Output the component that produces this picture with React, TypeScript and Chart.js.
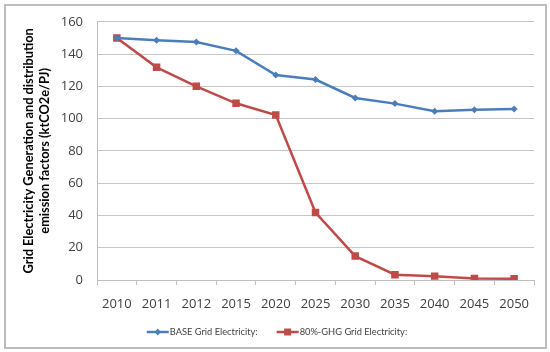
import React, { useEffect, useRef } from "react";
import { Chart, registerables } from "chart.js";

Chart.register(...registerables);

const years = ["2010", "2011", "2012", "2015", "2020", "2025", "2030", "2035", "2040", "2045", "2050"];
const baseValues = [150, 148.5, 147.5, 142, 127, 124.2, 112.8, 109.3, 104.6, 105.5, 106];
const ghgValues = [150, 131.8, 120, 109.5, 102.2, 41.8, 14.8, 3.3, 2.4, 1.0, 0.8];
const seriesNames = ["BASE Grid Electricity:", "80%-GHG Grid Electricity:"];
const yTitle = ["Grid Electricity Generation and distribution", "emission factors (ktCO2e/PJ)"];

const BLUE = "#4a7ebb";
const RED = "#be4b48";
const TEXT = "#404040";
const GRID = "#c6c6c6";

function drawMarker(ctx: CanvasRenderingContext2D, style: string, x: number, y: number, color: string) {
  ctx.save();
  ctx.fillStyle = color;
  ctx.beginPath();
  if (style === "rect") {
    ctx.rect(x - 3.5, y - 3.5, 7, 7);
  } else {
    ctx.moveTo(x, y - 3.5);
    ctx.lineTo(x + 3, y);
    ctx.lineTo(x, y + 3.5);
    ctx.lineTo(x - 3, y);
    ctx.closePath();
  }
  ctx.fill();
  ctx.restore();
}

const legendPlugin = {
  id: "customLegend",
  afterDraw(chart: any) {
    const ctx: CanvasRenderingContext2D = chart.ctx;
    const items = [
      { name: seriesNames[0], color: BLUE, style: "rectRot" },
      { name: seriesNames[1], color: RED, style: "rect" },
    ];
    ctx.save();
    ctx.font = "9.3px Lato";
    const lineLen = 22;
    const gapText = 1;
    const gapItems = 19;
    const widths = items.map((it) => lineLen + gapText + ctx.measureText(it.name).width);
    const total = widths.reduce((a, b) => a + b, 0) + gapItems;
    let x = chart.width / 2 + 2 - total / 2;
    const y = chart.chartArea.bottom + 52;
    items.forEach((it, i) => {
      ctx.strokeStyle = it.color;
      ctx.lineWidth = 2.5;
      ctx.beginPath();
      ctx.moveTo(x, y);
      ctx.lineTo(x + lineLen, y);
      ctx.stroke();
      drawMarker(ctx, it.style, x + lineLen / 2, y, it.color);
      ctx.fillStyle = TEXT;
      ctx.textBaseline = "middle";
      ctx.textAlign = "left";
      ctx.fillText(it.name, x + lineLen + gapText, y);
      x += widths[i] + gapItems;
    });
    ctx.restore();
  },
};

export default function App() {
  const canvasRef = useRef<HTMLCanvasElement | null>(null);

  useEffect(() => {
    if (!canvasRef.current) return;
    const chart = new Chart(canvasRef.current, {
      type: "line",
      data: {
        labels: years,
        datasets: [
          {
            label: seriesNames[0],
            data: baseValues,
            borderColor: BLUE,
            backgroundColor: BLUE,
            borderWidth: 2.5,
            pointStyle: "rectRot",
            pointRadius: 3.5,
            pointBorderWidth: 0,
            tension: 0,
          },
          {
            label: seriesNames[1],
            data: ghgValues,
            borderColor: RED,
            backgroundColor: RED,
            borderWidth: 2.5,
            pointStyle: "rect",
            pointRadius: 5.3,
            pointBorderWidth: 0,
            tension: 0,
          },
        ],
      },
      options: {
        animation: false,
        responsive: false,
        devicePixelRatio: 1,
        layout: { padding: { left: 0, top: 19, right: 16, bottom: 37 } },
        plugins: {
          legend: { display: false },
          tooltip: { enabled: false },
        },
        scales: {
          x: {
            type: "category",
            offset: true,
            grid: {
              display: true,
              offset: true,
              drawOnChartArea: false,
              drawTicks: true,
              tickLength: 5,
              color: "#bfbfbf",
            },
            border: { display: true, color: "#bfbfbf", width: 1 },
            ticks: {
              color: TEXT,
              font: { family: "Open Sans", size: 13 },
              padding: 11,
              maxRotation: 0,
              autoSkip: false,
            },
            afterFit: (scale: any) => {
              scale.height = 35;
            },
          },
          y: {
            min: 0,
            max: 160,
            ticks: {
              stepSize: 20,
              color: TEXT,
              font: { family: "Open Sans", size: 13 },
              padding: 14,
            },
            grid: { color: GRID, drawTicks: false },
            border: { display: true, color: "#bfbfbf", width: 1 },
            title: {
              display: true,
              text: yTitle,
              color: "#000000",
              font: { family: "Lato", size: 12.8, weight: "bold", lineHeight: 1.25 },
              padding: { top: 21, bottom: 0 },
            },
            afterFit: (scale: any) => {
              scale.width = 97;
            },
          },
        },
      },
      plugins: [legendPlugin],
    } as any);
    return () => chart.destroy();
  }, []);

  return (
    <div style={{ position: "absolute", left: 0, top: 0, width: 550, height: 352, background: "#ffffff" }}>
      <div
        style={{
          position: "absolute",
          left: 4,
          top: 4,
          width: 543,
          height: 345,
          boxSizing: "border-box",
          border: "2px solid #bdbdbd",
        }}
      />
      <canvas ref={canvasRef} width={550} height={352} style={{ position: "absolute", left: 0, top: 0 }} />
    </div>
  );
}
